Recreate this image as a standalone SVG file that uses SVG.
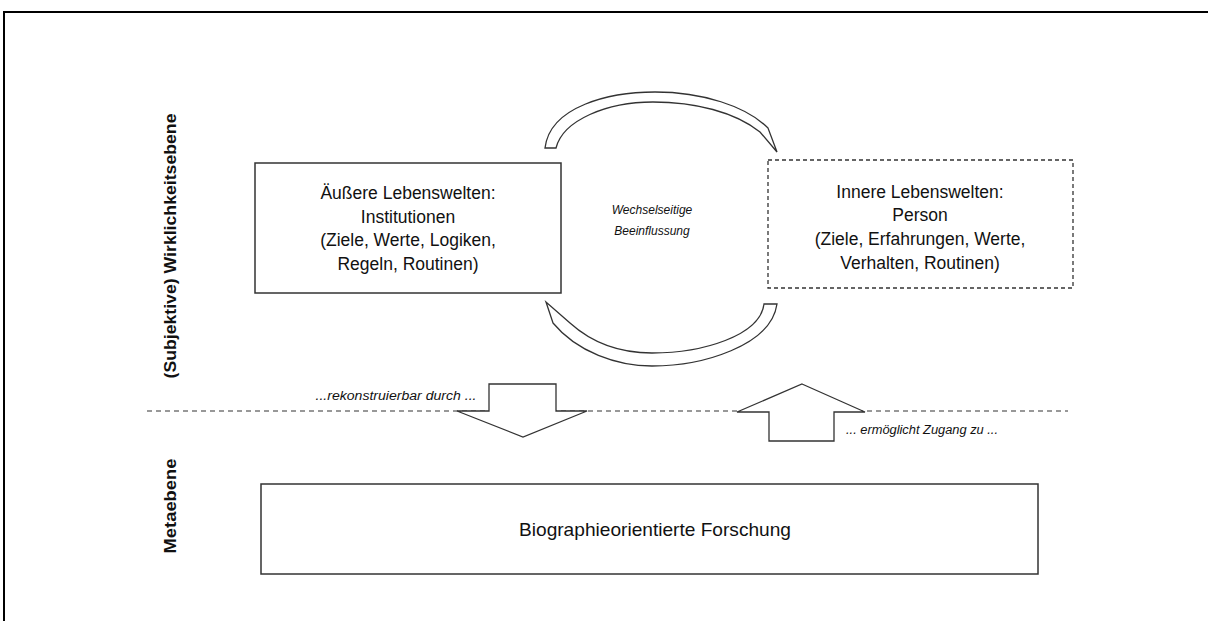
<svg xmlns="http://www.w3.org/2000/svg" width="1208" height="621" viewBox="0 0 1208 621">
<style>
text{font-family:"Liberation Sans",Arial,sans-serif;fill:#111;}
.box{fill:#fff;stroke:#333;stroke-width:1.5;}
.dash{fill:#fff;stroke:#333;stroke-width:1.3;stroke-dasharray:4,3;}
.arc{fill:#fff;stroke:#333;stroke-width:1.3;stroke-linejoin:miter;}
.lbl{font-size:17.5px;text-anchor:middle;}
.it{font-style:italic;font-size:12px;}
.side{font-weight:bold;font-size:17px;text-anchor:middle;}
</style>
<rect width="1208" height="621" fill="#fff"/>
<path d="M4,621 V12 H1208" fill="none" stroke="#000" stroke-width="2"/>

<g id="connectors">
<line x1="147" y1="411" x2="1068" y2="411" stroke="#333" stroke-width="1.2" stroke-dasharray="5,4"/>
<path class="arc" d="M545,148 C550,106 610,92 655,92 C702,92 746,106 768,128 L777,152 L760,132 C735,112 695,102 653,102 C607,102 563,120 556,148 Z"/>
<path class="arc" d="M546,302 L553,323 C577,352 617,366 652,366 C702,366 771,346 777,304 L764,304 C760,336 702,353 652,353 C617,353 590,341 570,323 Z"/>
<polygon class="arc" points="489,384 556,384 556,411 587,411 523,437 457,411 489,411"/>
<polygon class="arc" points="802,384 865,412 834,412 834,441 769,441 769,412 737,412"/>
</g>

<g id="side-labels">
<text class="side" transform="translate(176,246) rotate(-90)" textLength="265" lengthAdjust="spacingAndGlyphs">(Subjektive) Wirklichkeitsebene</text>
<text class="side" transform="translate(176,506) rotate(-90)" textLength="95" lengthAdjust="spacingAndGlyphs">Metaebene</text>
</g>

<g id="node-aeussere">
<rect class="box" x="255" y="163" width="306" height="130"/>
<text class="lbl" x="408" y="199">Äußere Lebenswelten:</text>
<text class="lbl" x="408" y="223">Institutionen</text>
<text class="lbl" x="408" y="246">(Ziele, Werte, Logiken,</text>
<text class="lbl" x="408" y="270">Regeln, Routinen)</text>
</g>

<g id="node-innere">
<rect class="dash" x="768" y="160" width="305" height="128"/>
<text class="lbl" x="920" y="198">Innere Lebenswelten:</text>
<text class="lbl" x="920" y="221">Person</text>
<text class="lbl" x="920" y="245">(Ziele, Erfahrungen, Werte,</text>
<text class="lbl" x="920" y="269">Verhalten, Routinen)</text>
</g>

<g id="label-wechsel">
<text class="it" x="652" y="214" text-anchor="middle">Wechselseitige</text>
<text class="it" x="652" y="235" text-anchor="middle">Beeinflussung</text>
</g>

<g id="label-rekonstruierbar">
<text class="it" x="396" y="400" text-anchor="middle" font-size="13.5" textLength="161" lengthAdjust="spacingAndGlyphs">...rekonstruierbar durch ...</text>
</g>
<g id="label-zugang">
<text class="it" x="922" y="434" text-anchor="middle" font-size="13.5" textLength="152" lengthAdjust="spacingAndGlyphs">... ermöglicht Zugang zu ...</text>
</g>

<g id="node-forschung">
<rect class="box" x="261" y="484" width="777" height="90"/>
<text class="lbl" x="655" y="536" style="font-size:18.5px" textLength="272" lengthAdjust="spacingAndGlyphs">Biographieorientierte Forschung</text>
</g>
</svg>
